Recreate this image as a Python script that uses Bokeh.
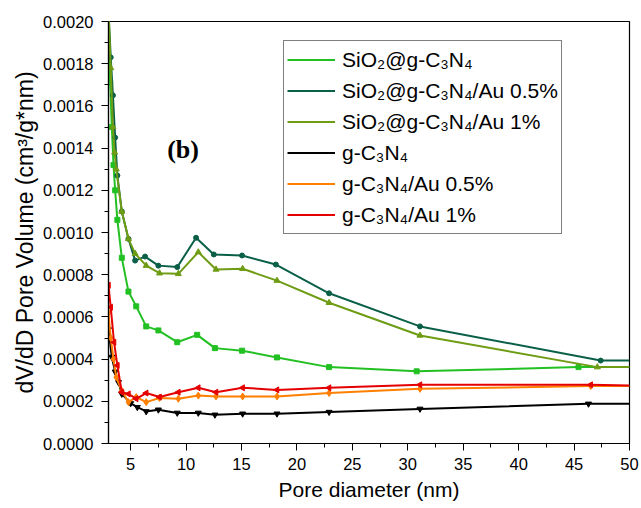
import math
from bokeh.plotting import figure
from bokeh.models import Legend, LegendItem, NumeralTickFormatter, Label, FixedTicker
from bokeh.embed import file_html
from bokeh.resources import INLINE

# Pore diameter (nm) and dV/dD (units of 1e-4 cm3/g*nm) for each sample
sio2_x = [3.0, 3.15, 3.3, 3.45, 3.6, 3.8, 4.2, 4.8, 5.5, 6.4, 7.5, 9.2, 11.0, 12.6, 15.05, 18.2, 22.9, 30.8, 45.4, 50]
sio2_y = [20.5, 17.1, 15.0, 13.2, 12.0, 10.6, 8.8, 7.2, 6.5, 5.55, 5.36, 4.8, 5.15, 4.52, 4.4, 4.08, 3.62, 3.42, 3.62, 3.62]

sio2_au05_x = [3.0, 3.2, 3.4, 3.6, 3.8, 4.2, 4.8, 5.4, 6.3, 7.5, 9.2, 10.9, 12.5, 15.05, 18.1, 22.9, 31.1, 47.4, 50]
sio2_au05_y = [20.5, 18.3, 16.5, 14.5, 12.7, 11.0, 9.7, 8.67, 8.86, 8.43, 8.36, 9.75, 8.96, 8.91, 8.48, 7.12, 5.55, 3.93, 3.93]

sio2_au1_x = [3.0, 3.2, 3.4, 3.55, 3.7, 4.2, 4.8, 5.4, 6.4, 7.6, 9.3, 11.1, 12.7, 15.1, 18.2, 22.9, 31.1, 47.1, 50]
sio2_au1_y = [20.5, 17.8, 15.0, 13.8, 13.0, 11.0, 9.7, 9.0, 8.43, 8.07, 8.04, 9.07, 8.25, 8.28, 7.72, 6.67, 5.12, 3.62, 3.62]

gcn_x = [3.0, 3.3, 3.6, 3.9, 4.2, 5.0, 5.6, 6.4, 7.5, 9.2, 11.1, 12.6, 15.1, 18.2, 22.9, 31.1, 46.3, 50]
gcn_y = [5.4, 4.1, 3.4, 2.9, 2.35, 1.9, 1.72, 1.52, 1.6, 1.45, 1.45, 1.36, 1.41, 1.41, 1.49, 1.64, 1.88, 1.88]

gcn_au05_x = [3.0, 3.2, 3.45, 3.7, 4.2, 4.8, 5.5, 6.4, 7.6, 9.3, 11.1, 12.7, 15.1, 18.2, 22.9, 31.1, 46.5, 50]
gcn_au05_y = [6.2, 5.0, 4.0, 3.14, 2.5, 1.96, 2.2, 1.96, 2.16, 2.12, 2.27, 2.23, 2.23, 2.23, 2.39, 2.59, 2.72, 2.72]

gcn_au1_x = [3.0, 3.2, 3.5, 3.8, 4.2, 4.8, 5.5, 6.4, 7.6, 9.3, 11.1, 12.7, 15.1, 18.2, 22.9, 31.1, 46.5, 50]
gcn_au1_y = [7.5, 6.46, 4.8, 3.7, 2.43, 2.35, 2.12, 2.39, 2.2, 2.43, 2.64, 2.43, 2.64, 2.54, 2.64, 2.78, 2.78, 2.75]

labels = [
    "SiO₂@g-C₃N₄",
    "SiO₂@g-C₃N₄/Au 0.5%",
    "SiO₂@g-C₃N₄/Au 1%",
    "g-C₃N₄",
    "g-C₃N₄/Au 0.5%",
    "g-C₃N₄/Au 1%",
]

x_ticks = [5, 10, 15, 20, 25, 30, 35, 40, 45, 50]
y_ticks = [0.0, 0.0002, 0.0004, 0.0006, 0.0008, 0.0010, 0.0012, 0.0014, 0.0016, 0.0018, 0.0020]

FONT = "Liberation Sans"

p = figure(
    width=641, height=508,
    frame_width=521, frame_height=422,
    min_border_left=108, min_border_right=12, min_border_top=21, min_border_bottom=65,
    x_range=(3, 50), y_range=(0, 0.0020),
    output_backend="svg", toolbar_location=None,
)
p.background_fill_color = "white"
p.border_fill_color = "white"
p.grid.visible = False
p.outline_line_color = "black"
p.outline_line_width = 1.2

for ax in (p.xaxis[0], p.yaxis[0]):
    ax.axis_line_color = "black"
    ax.axis_line_width = 1.2
    ax.major_tick_in = 0
    ax.major_tick_out = 7
    ax.minor_tick_in = 0
    ax.minor_tick_out = 4
    ax.major_tick_line_color = "black"
    ax.minor_tick_line_color = "black"
    ax.major_label_text_font = FONT
    ax.major_label_text_font_size = "16.5px"
    ax.major_label_text_color = "black"
    ax.axis_label_text_font = FONT
    ax.axis_label_text_font_style = "normal"
    ax.axis_label_text_color = "black"

p.xaxis.axis_label_text_font_size = "21px"
p.yaxis.axis_label_text_font_size = "23px"
p.xaxis.ticker = FixedTicker(ticks=x_ticks, minor_ticks=[x + 2.5 for x in [0] + x_ticks[:-1]])
p.yaxis.ticker = FixedTicker(ticks=y_ticks, minor_ticks=[t + 0.0001 for t in y_ticks[:-1]])
p.yaxis.formatter = NumeralTickFormatter(format="0.0000")
p.xaxis.axis_label = "Pore diameter (nm)"
p.yaxis.axis_label = "dV/dD Pore Volume (cm³/g*nm)"
p.xaxis.major_label_standoff = 7
p.yaxis.major_label_standoff = 8
p.xaxis.axis_label_standoff = 5
p.yaxis.axis_label_standoff = 2

series = [
    (sio2_x, sio2_y, "#22c022", "square", 0.0, 5),
    (sio2_au05_x, sio2_au05_y, "#0a5f47", "circle", 0.0, 5),
    (sio2_au1_x, sio2_au1_y, "#6e9c14", "triangle", 0.0, 6),
    (gcn_x, gcn_y, "#000000", "inverted_triangle", 0.0, 6),
    (gcn_au05_x, gcn_au05_y, "#ff7f00", "diamond", 0.0, 7),
    (gcn_au1_x, gcn_au1_y, "#e50000", "triangle", math.pi / 2, 6),
]

items = []
for (xs, ys, color, marker, ang, size), label in zip(series, labels):
    yv = [v * 1e-4 for v in ys]
    ln = p.line(xs, yv, line_color=color, line_width=2)
    # the last point sits on the frame edge: line only, no marker
    p.scatter(xs[:-1], yv[:-1], marker=marker, angle=ang, size=size,
              fill_color=color, line_color=color)
    # small marker used only for the legend swatch
    key = p.scatter([], [], marker=marker, angle=ang, size=4,
                    fill_color=color, line_color=color)
    items.append(LegendItem(label=label, renderers=[ln, key]))

legend = Legend(
    items=items,
    location=(175, 209),
    label_text_font=FONT,
    label_text_font_size="21px",
    label_text_color="black",
    glyph_width=48,
    glyph_height=31,
    label_height=31,
    spacing=0,
    padding=3,
    margin=0,
    label_standoff=7,
    border_line_color="black",
    border_line_width=1,
    background_fill_color="white",
    background_fill_alpha=1.0,
)
p.add_layout(legend)

p.add_layout(Label(x=8.29, y=0.001327, text="(b)", text_font="Liberation Serif",
                   text_font_style="bold", text_font_size="26px", text_color="black"))

open("out.html", "w").write(file_html(p, INLINE))
